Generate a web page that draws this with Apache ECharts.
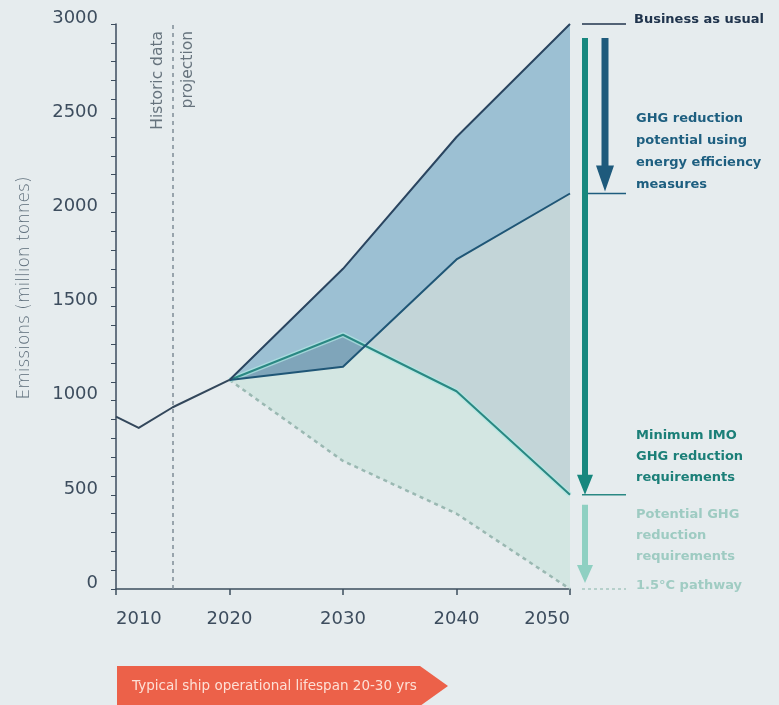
<!DOCTYPE html>
<html>
<head>
<meta charset="utf-8">
<script src="https://cdn.jsdelivr.net/npm/echarts@6/dist/echarts.min.js"></script>
<style>
  html, body { margin: 0; padding: 0; background: #e6ecee; }
  #chart { width: 779px; height: 705px; }
</style>
</head>
<body>
<div id="chart"></div>
<script>
// Shipping emissions, million tonnes
const historicYears = [2010, 2012, 2015, 2020];
const historicValues = [915, 855, 965, 1110];

const projectionYears = [2020, 2030, 2040, 2050];
const businessAsUsual = [1110, 1700, 2400, 3000];
const energyEfficiency = [1110, 1180, 1750, 2100];
const imoMinimum = [1110, 1350, 1050, 500];
const pathway15 = [1110, 680, 400, 0];

const xTickYears = [2010, 2020, 2030, 2040, 2050];
const yTickValues = [0, 500, 1000, 1500, 2000, 2500, 3000];
const dividerYear = 2015;

const FONT = 'DejaVu Sans';
const BG = '#e6ecee';
const AXIS_COLOR = '#3d4d5e';

const pairs = (xs, ys) => xs.map((x, i) => [x, ys[i]]);

// filled region between two projection curves
function band(upper, lower, fill, z) {
  return {
    type: 'custom',
    coordinateSystem: 'cartesian2d',
    silent: true,
    z: z,
    data: [[projectionYears[0], upper[0]]],
    renderItem: function (params, api) {
      const top = projectionYears.map((y, i) => api.coord([y, upper[i]]));
      const bottom = projectionYears.map((y, i) => api.coord([y, lower[i]])).reverse();
      return { type: 'polygon', shape: { points: top.concat(bottom) }, style: { fill: fill } };
    }
  };
}

function line(xs, ys, color, width, z, extra) {
  return Object.assign({
    type: 'line',
    data: pairs(xs, ys),
    showSymbol: false,
    silent: true,
    z: z,
    lineStyle: { color: color, width: width, join: 'round' }
  }, extra || {});
}

const chart = echarts.init(document.getElementById('chart'), null, { renderer: 'canvas' });

const labelMin = yTickValues[0], labelMax = yTickValues[yTickValues.length - 1];

chart.setOption({
  backgroundColor: BG,
  animation: false,
  grid: { left: 116, right: 209, top: 24, bottom: 116 },
  xAxis: {
    type: 'value',
    min: xTickYears[0],
    max: xTickYears[xTickYears.length - 1],
    interval: xTickYears[1] - xTickYears[0],
    axisLine: { show: true, lineStyle: { color: AXIS_COLOR, width: 1.5 } },
    axisTick: { show: true, inside: false, length: 6, lineStyle: { color: AXIS_COLOR, width: 1.5 } },
    splitLine: { show: false },
    axisLabel: {
      fontFamily: FONT, fontSize: 18, color: AXIS_COLOR, margin: 21,
      alignMinLabel: 'left', alignMaxLabel: 'right',
      formatter: v => String(v)
    }
  },
  yAxis: {
    type: 'value',
    min: labelMin,
    max: labelMax,
    interval: yTickValues[1] - yTickValues[0],
    axisLine: { show: true, lineStyle: { color: AXIS_COLOR, width: 1.5 } },
    axisTick: { show: true, inside: false, length: 5, lineStyle: { color: AXIS_COLOR, width: 1 } },
    minorTick: { show: true, splitNumber: 5, length: 5, lineStyle: { color: AXIS_COLOR, width: 1 } },
    splitLine: { show: false },
    axisLabel: {
      fontFamily: FONT, fontSize: 18, color: AXIS_COLOR, margin: 18,
      verticalAlign: 'bottom', lineHeight: 12,
      formatter: v => String(v)
    }
  },
  series: [
    // mint region down to the 1.5°C pathway
    band(imoMinimum, pathway15, '#d3e6e2', 1),
    // light base of the efficiency / IMO gap
    band(energyEfficiency, imoMinimum, 'rgb(241,252,248)', 2),
    // reduction potential from energy efficiency
    band(businessAsUsual, energyEfficiency, '#9cc0d3', 3),
    // tint over the efficiency / IMO gap
    band(energyEfficiency, imoMinimum, 'rgba(16,62,90,0.2)', 4),
    line(projectionYears, pathway15, '#9ab8b2', 2.5, 5, { lineStyle: { color: '#9ab8b2', width: 2.5, type: [4, 4] } }),
    line(projectionYears, imoMinimum, 'rgba(175,232,228,0.7)', 5, 5),
    line(projectionYears, imoMinimum, '#2a8883', 2, 6),
    line(projectionYears, energyEfficiency, '#1f5676', 2, 7),
    line(projectionYears, businessAsUsual, '#2a4560', 2, 8),
    line(historicYears, historicValues, '#33475b', 2, 8, {
      markLine: {
        silent: true,
        symbol: 'none',
        animation: false,
        lineStyle: { color: '#7f8c96', type: [4, 4], width: 1.5 },
        label: { fontFamily: FONT, fontSize: 15.5, color: '#66737d', distance: 7 },
        data: [
          [
            { coord: [dividerYear, labelMin], label: { formatter: 'Historic data', position: 'insideEndTop' } },
            { coord: [dividerYear, labelMax] }
          ],
          [
            { coord: [dividerYear, labelMin], lineStyle: { color: 'transparent' }, label: { formatter: 'projection', position: 'insideEndBottom' } },
            { coord: [dividerYear, labelMax] }
          ]
        ]
      }
    })
  ]
});

// annotations to the right of the plot, anchored on the 2050 values
const endYear = projectionYears[projectionYears.length - 1];
const last = arr => arr[arr.length - 1];
const px = (x, y) => chart.convertToPixel({ gridIndex: 0 }, [x, y]);
const xEnd = px(endYear, 0)[0];
const yBau = px(endYear, last(businessAsUsual))[1];
const yEe = px(endYear, last(energyEfficiency))[1];
const yImo = px(endYear, last(imoMinimum))[1];
const yPath = px(endYear, last(pathway15))[1];
const xStart = px(xTickYears[0], 0)[0];

function arrow(cx, y0, y1, shaftW, headW, headH, color) {
  return {
    type: 'polygon',
    shape: {
      points: [
        [cx - shaftW / 2, y0], [cx + shaftW / 2, y0], [cx + shaftW / 2, y1 - headH],
        [cx + headW / 2, y1 - headH], [cx, y1], [cx - headW / 2, y1 - headH],
        [cx - shaftW / 2, y1 - headH]
      ]
    },
    style: { fill: color },
    silent: true
  };
}
function hline(y, color, dashed) {
  return {
    type: 'line',
    shape: { x1: xEnd + 12, y1: y, x2: xEnd + 56, y2: y },
    style: { stroke: color, lineWidth: 1.5, lineDash: dashed ? [3, 3] : null },
    silent: true
  };
}
function label(text, x, yBottom, color, lineH, weight) {
  return {
    type: 'text',
    x: x, y: yBottom,
    style: {
      text: text, fill: color, fontFamily: FONT, fontSize: 13, fontWeight: weight || 'bold',
      lineHeight: lineH || 21, align: 'left', verticalAlign: 'bottom'
    },
    silent: true
  };
}

const textX = xEnd + 66;

chart.setOption({
  graphic: [
    {
      type: 'text', x: 25, y: 288, rotation: Math.PI / 2,
      style: {
        text: 'Emissions (million tonnes)', fill: '#5d6d7a', fontFamily: FONT, fontSize: 17,
        fontWeight: 300, align: 'center', verticalAlign: 'middle'
      },
      silent: true
    },
    hline(yBau, '#20344d'),
    hline(yEe, '#1e5c7e'),
    hline(yImo, '#2a8883'),
    hline(yPath, '#a7c6c0', true),
    arrow(xEnd + 15, yBau + 14, yImo, 6, 16, 20, '#17877e'),
    arrow(xEnd + 35, yBau + 14, yEe - 2, 7, 18, 26, '#1e5a7c'),
    arrow(xEnd + 15, yImo + 10, yPath - 6, 6, 16, 18, '#8fd0c2'),
    label('Business as usual', textX - 2, yBau + 6, '#20344d'),
    label('GHG reduction\npotential using\nenergy efficiency\nmeasures', textX, yEe + 2, '#1e5f80', 22),
    label('Minimum IMO\nGHG reduction\nrequirements', textX, yImo - 7, '#1b7f78', 21),
    label('Potential GHG\nreduction\nrequirements', textX, yImo + 72, '#9ecbc2', 21),
    label('1.5°C pathway', textX, yPath + 7, '#a0ccc3'),
    {
      type: 'polygon',
      shape: { points: [[xStart + 1, 666], [420, 666], [448, 686], [420, 706], [xStart + 1, 706]] },
      style: { fill: '#ec6149' },
      silent: true
    },
    {
      type: 'text', x: xStart + 16, y: 686,
      style: {
        text: 'Typical ship operational lifespan 20-30 yrs', fill: '#fde0d6',
        fontFamily: FONT, fontSize: 13.5, align: 'left', verticalAlign: 'middle'
      },
      silent: true
    }
  ]
});
</script>
</body>
</html>
